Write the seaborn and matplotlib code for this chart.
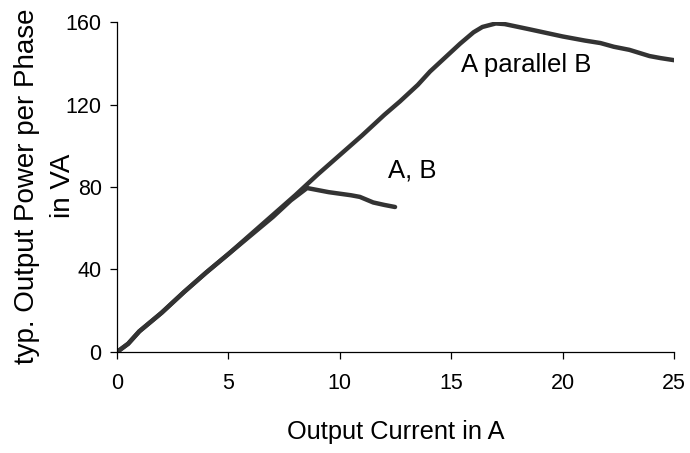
import matplotlib
matplotlib.use("Agg")
import matplotlib.pyplot as plt
import seaborn as sns
import pandas as pd

# Data
par_current = [0, 0.5, 1, 2, 3, 4, 5, 6, 7, 8, 9, 10, 11, 12, 12.7, 13.5, 14.05, 15.0, 15.4, 16.0, 16.4, 17.0, 17.4, 18.5, 20.0, 21.0, 21.7, 22.3, 23.0, 23.9, 24.4, 25.0]
par_power = [0, 4, 10, 19, 29, 38.5, 47.5, 57, 66.5, 76, 86, 95.5, 105, 115, 121.5, 129.5, 136, 145.5, 149.5, 155, 157.6, 159.3, 159, 156.5, 153, 151, 149.8, 148, 146.5, 143.5, 142.5, 141.5]
ab_current = [0, 0.5, 1, 2, 3, 4, 5, 6, 7, 7.8, 8.53, 9.5, 10.5, 10.9, 11.5, 12.0, 12.48]
ab_power = [0, 4, 10, 19, 29, 38.5, 47.5, 56.5, 65.5, 73.5, 79.5, 77.5, 76, 75.2, 72.5, 71.3, 70.3]

labels = ["A parallel B", "A, B"]
x_ticks = [0, 5, 10, 15, 20, 25]
y_ticks = [0, 40, 80, 120, 160]
ylabel_lines = ["typ. Output Power per Phase", "in VA"]

sns.set_theme(style="ticks")
plt.rcParams['font.family'] = ['Liberation Sans', 'DejaVu Sans']

df = pd.concat([
    pd.DataFrame({"I": par_current, "P": par_power, "s": labels[0]}),
    pd.DataFrame({"I": ab_current, "P": ab_power, "s": labels[1]}),
])

fig = plt.figure(figsize=(6.9, 4.53), dpi=100)
ax = fig.add_axes([0.1696, 0.223, 0.8072, 0.7284])

for name in labels:
    sub = df[df["s"] == name]
    sns.lineplot(data=sub, x="I", y="P", ax=ax, color="#333333", linewidth=3.2,
                 sort=False, estimator=None, legend=False,
                 solid_capstyle="round", solid_joinstyle="round")

ax.set_xlim(0, 25)
ax.set_ylim(0, 160)
ax.set_xticks(x_ticks)
ax.set_yticks(y_ticks)
ax.tick_params(axis='both', labelsize=15.5, length=5, width=0.9, color='black', labelcolor='black')
ax.tick_params(axis='x', pad=10)
ax.tick_params(axis='y', pad=6)
for sp in ["top", "right"]:
    ax.spines[sp].set_visible(False)
for sp in ["left", "bottom"]:
    ax.spines[sp].set_color("black")
    ax.spines[sp].set_linewidth(0.9)

ax.set_xlabel("Output Current in A", fontsize=18.3, labelpad=19, color="black")
ax.set_ylabel("")

# two-line y label, drawn as two rotated texts
yc = 1 - 186 / 453
fig.text(34 / 690, yc, ylabel_lines[0], rotation=90, rotation_mode="anchor",
         ha="center", va="baseline", fontsize=20, color="black")
fig.text(70 / 690, yc, ylabel_lines[1], rotation=90, rotation_mode="anchor",
         ha="center", va="baseline", fontsize=20, color="black")

ax.text(12.16, 88, "A, B", fontsize=18.5, va="center", ha="left", color="black")
ax.text(15.44, 139, "A parallel B", fontsize=18.5, va="center", ha="left", color="black")

fig.savefig("out.png", dpi=100)
